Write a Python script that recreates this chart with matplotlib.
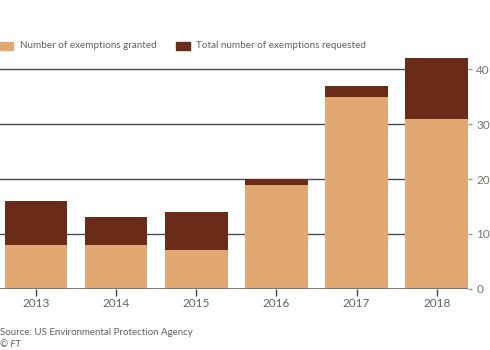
import matplotlib
matplotlib.use("Agg")
import matplotlib.pyplot as plt
import numpy as np

years = ["2013", "2014", "2015", "2016", "2017", "2018"]
granted = [8, 8, 7, 19, 35, 31]
requested = [16, 13, 14, 20, 37, 42]

C_GRANT = "#e1a874"
C_REQ = "#6b2b19"
C_TEXT = "#66605c"

plt.rcParams["font.family"] = ["Lato", "DejaVu Sans"]

fig = plt.figure(figsize=(4.9, 3.5), dpi=100)
ax = fig.add_axes([0.0, 0.175, 0.955, 0.658])

x = np.arange(len(years))
rest = [r - g for r, g in zip(requested, granted)]
ax.bar(x, granted, width=0.78, color=C_GRANT, zorder=2)
ax.bar(x, rest, bottom=granted, width=0.78, color=C_REQ, zorder=2)

ax.set_xlim(-0.45, 5.39)
ax.set_ylim(0, 42)
for y in (10, 20, 30, 40):
    ax.axhline(y, color="#4a4a4a", lw=1, zorder=1)
ax.axhline(0, color="#6e6e6e", lw=2, zorder=3)

for s in ax.spines.values():
    s.set_visible(False)
ax.set_xticks(x, years)
ax.set_yticks([0, 10, 20, 30, 40])
ax.yaxis.tick_right()
ax.tick_params(axis="x", colors="#444444", labelcolor=C_TEXT, length=5,
               width=1, labelsize=8.5, pad=2)
ax.tick_params(axis="y", colors="#999999", labelcolor="#7a7470", length=3,
               width=1, labelsize=8.5, pad=3)

# legend
fig.patches.append(plt.Rectangle((0.0, 0.858), 0.027, 0.022, color=C_GRANT,
                                 transform=fig.transFigure))
fig.text(0.041, 0.869, "Number of exemptions granted", color=C_TEXT,
         fontsize=7.1, va="center")
fig.patches.append(plt.Rectangle((0.359, 0.858), 0.028, 0.022, color=C_REQ,
                                 transform=fig.transFigure))
fig.text(0.400, 0.869, "Total number of exemptions requested", color=C_TEXT,
         fontsize=7.1, va="center")

fig.text(0.0, 0.049, "Source: US Environmental Protection Agency",
         color=C_TEXT, fontsize=7.0, va="center")
fig.text(0.0, 0.017, "© FT", color=C_TEXT, fontsize=7.0, va="center",
         style="italic")

fig.savefig("out.png", dpi=100)
